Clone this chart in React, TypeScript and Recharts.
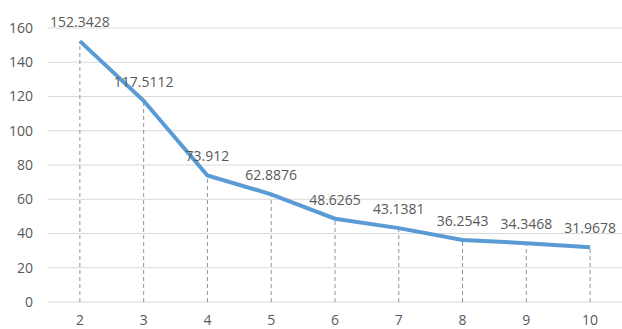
import React from "react";
import { LineChart, Line, XAxis, YAxis, CartesianGrid, LabelList, ReferenceLine } from "recharts";

const categories = [2, 3, 4, 5, 6, 7, 8, 9, 10];
const values = [152.3428, 117.5112, 73.912, 62.8876, 48.6265, 43.1381, 36.2543, 34.3468, 31.9678];
const yTicks = [0, 20, 40, 60, 80, 100, 120, 140, 160];
const boundaryTicks = [1.5, 2.5, 3.5, 4.5, 5.5, 6.5, 7.5, 8.5, 9.5, 10.5];

const data = categories.map((k, i) => ({ k, v: values[i] }));

const FONT = "'Open Sans', sans-serif";
const TEXT = "#595959";
const GRID = "#d9d9d9";

export default function App() {
  return (
    <div style={{ position: "absolute", left: 0, top: 0, width: 622, height: 329, background: "#fff" }}>
      <LineChart width={622} height={329} data={data} margin={{ top: 28, right: 0, bottom: 0, left: 0 }}>
        <CartesianGrid vertical={false} stroke={GRID} strokeWidth={1} />
        <XAxis
          dataKey="k"
          type="number"
          domain={[1.5, 10.5]}
          ticks={categories}
          interval={0}
          tickLine={false}
          axisLine={false}
          tickSize={5}
          tickMargin={8}
          height={27}
          tick={{ fill: TEXT, fontSize: 14, fontFamily: FONT }}
        />
        <XAxis
          xAxisId="t"
          dataKey="k"
          type="number"
          domain={[1.5, 10.5]}
          ticks={boundaryTicks}
          interval={0}
          tickFormatter={() => ""}
          tickSize={5}
          tickLine={{ stroke: "#c8c8c8" }}
          axisLine={{ stroke: GRID }}
          height={0}
        />
        <YAxis
          domain={[0, 160]}
          ticks={yTicks}
          width={48}
          axisLine={false}
          tickLine={false}
          tickSize={7}
          tickMargin={8}
          tick={{ fill: TEXT, fontSize: 14, fontFamily: FONT }}
        />
        {data.map((d) => (
          <ReferenceLine
            key={d.k}
            segment={[{ x: d.k, y: 0 }, { x: d.k, y: d.v }]}
            stroke="#8496b0"
            strokeDasharray="4 3"
            strokeWidth={1}
          />
        ))}
        <Line
          type="linear"
          dataKey="v"
          stroke="#5b9bd5"
          strokeWidth={4}
          dot={false}
          isAnimationActive={false}
        >
          <LabelList dataKey="v" position="top" offset={14} fill={TEXT} fontSize={14} fontFamily={FONT} />
        </Line>
      </LineChart>
    </div>
  );
}
